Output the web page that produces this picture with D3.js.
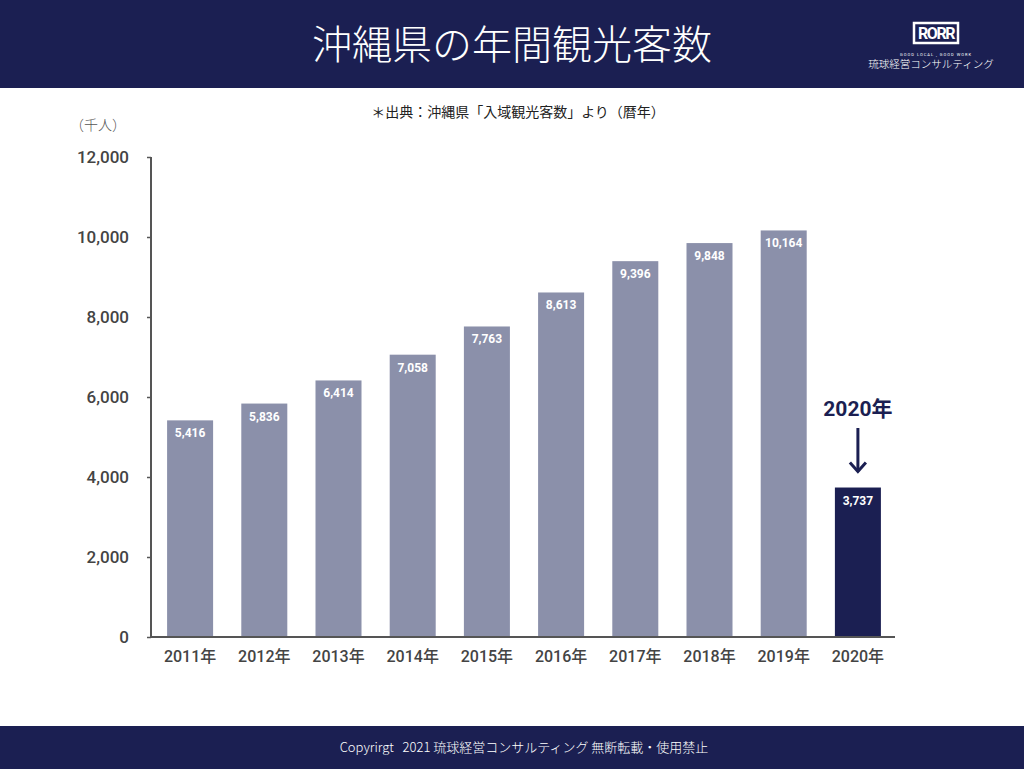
<!DOCTYPE html>
<html><head><meta charset="utf-8">
<script src="https://cdn.jsdelivr.net/npm/d3@7"></script>
<style>body{margin:0;background:#fff}svg{display:block}</style>
</head><body>
<script>
const years = ["2011年","2012年","2013年","2014年","2015年","2016年","2017年","2018年","2019年","2020年"];
const visitors = [5416,5836,6414,7058,7763,8613,9396,9848,10164,3737];
const yTicks = [0,2000,4000,6000,8000,10000,12000];
const highlightYear = "2020年";

const W=1024,H=769;
const navy="#1b1f52", barGray="#8b90aa";
const svg=d3.select("body").append("svg").attr("width",W).attr("height",H);
const jp="'Noto Sans CJK JP','Noto Sans',sans-serif";
const num="Roboto,'Noto Sans CJK JP',sans-serif";

svg.append("rect").attr("x",0).attr("y",0).attr("width",W).attr("height",88).attr("fill",navy);
svg.append("rect").attr("x",0).attr("y",726).attr("width",W).attr("height",43).attr("fill",navy);
svg.append("text").attr("x",512).attr("y",59).attr("text-anchor","middle").attr("fill","#fff")
  .style("font-family",jp).style("font-size","40px").style("font-weight",300).text("沖縄県の年間観光客数");

// logo
const lg=svg.append("g");
lg.append("rect").attr("x",914).attr("y",23).attr("width",44).attr("height",20).attr("fill",navy).attr("stroke","#fff").attr("stroke-width",2.5);
lg.append("text").attr("x",936).attr("y",39).attr("text-anchor","middle").attr("fill","#fff")
  .style("font-family",num).style("font-size","16px").style("font-weight",700).style("letter-spacing","-1.5px").text("RORR");
lg.append("text").attr("x",936).attr("y",56).attr("text-anchor","middle").attr("fill","#fff")
  .style("font-family",num).style("font-size","4px").style("letter-spacing","1px").text("GOOD LOCAL , GOOD WORK");
lg.append("text").attr("x",931).attr("y",68).attr("text-anchor","middle").attr("fill","#fff")
  .style("font-family",jp).style("font-size","10.5px").style("font-weight",300).text("琉球経営コンサルティング");

svg.append("text").attr("x",524).attr("y",752).attr("text-anchor","middle").attr("fill","#fff")
  .style("font-family",jp).style("font-size","13px").style("font-weight",300).text("Copyrirgt\u00a0\u00a0\u00a02021 琉球経営コンサルティング 無断転載・使用禁止");

svg.append("text").attr("x",518).attr("y",117).attr("text-anchor","middle").attr("fill","#222")
  .style("font-family",jp).style("font-size","14px").text("＊出典：沖縄県「入域観光客数」より（暦年）");
svg.append("text").attr("x",98).attr("y",130).attr("text-anchor","middle").attr("fill","#555")
  .style("font-family",jp).style("font-size","14px").style("font-weight",300).text("（千人）");

const x=d3.scaleBand().domain(years).range([153,895]).paddingInner(0.38).paddingOuter(0.19);
const y=d3.scaleLinear().domain([0,12000]).range([637,157]);

const yAx=svg.append("g").attr("transform","translate(151,0)")
  .call(d3.axisLeft(y).tickValues(yTicks).tickSize(4).tickPadding(18).tickFormat(d3.format(",")));
yAx.select(".domain").attr("stroke","#555").attr("stroke-width",2).attr("d","M0,637V157");
yAx.selectAll(".tick line").attr("stroke","#555").attr("stroke-width",1.5);
yAx.selectAll("text").attr("fill","#444").style("font-family",num).style("font-size","17px").style("font-weight",500);

svg.selectAll(".bar").data(years).enter().append("rect")
  .attr("x",d=>x(d)).attr("width",x.bandwidth())
  .attr("y",(d,i)=>y(visitors[i])).attr("height",(d,i)=>637-y(visitors[i]))
  .attr("fill",d=>d===highlightYear?navy:barGray);

svg.selectAll(".lbl").data(years).enter().append("text")
  .attr("x",d=>x(d)+x.bandwidth()/2).attr("y",(d,i)=>y(visitors[i])+17)
  .attr("text-anchor","middle").attr("fill","#fff")
  .style("font-family",num).style("font-size","12px").style("font-weight",700)
  .text((d,i)=>d3.format(",")(visitors[i]));

const xAx=svg.append("g").attr("transform","translate(0,637)")
  .call(d3.axisBottom(x).tickSize(0).tickPadding(14));
xAx.select(".domain").attr("stroke","#555").attr("stroke-width",2).attr("d","M150,0H895");
xAx.selectAll("text").attr("fill","#444").style("font-family",num).style("font-size","16px").style("font-weight",500);

// annotation
const hx=x(highlightYear)+x.bandwidth()/2;
const hi=years.indexOf(highlightYear);
svg.append("text").attr("x",hx).attr("y",416).attr("text-anchor","middle").attr("fill",navy)
  .style("font-family",num).style("font-size","21px").style("font-weight",700).text(highlightYear);
const ay0=428, ay1=y(visitors[hi])-16;
svg.append("line").attr("x1",hx).attr("x2",hx).attr("y1",ay0).attr("y2",ay1).attr("stroke",navy).attr("stroke-width",3);
svg.append("path").attr("d",`M${hx-8},${ay1-9}L${hx},${ay1}L${hx+8},${ay1-9}`).attr("fill","none").attr("stroke",navy).attr("stroke-width",3);
</script>
</body></html>
